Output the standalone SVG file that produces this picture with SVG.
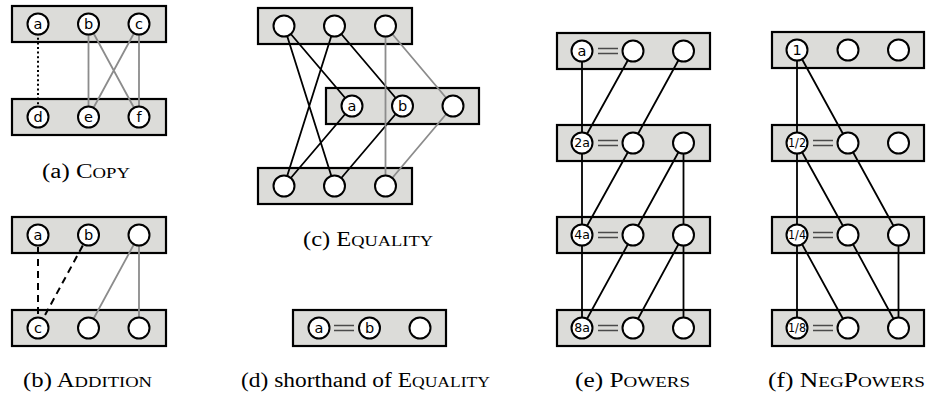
<svg xmlns="http://www.w3.org/2000/svg" width="935" height="395" viewBox="0 0 935 395">
<style>
.box{fill:#dcdcd9;stroke:#000;stroke-width:2.2}
.n{fill:#fff;stroke:#000;stroke-width:2}
.k{stroke:#000;stroke-width:1.8;fill:none}
.g{stroke:#8c8c8c;stroke-width:1.8;fill:none}
.dot{stroke:#000;stroke-width:2;stroke-dasharray:2 2.6;fill:none}
.dash{stroke:#000;stroke-width:2;stroke-dasharray:7 5;fill:none}
.eq{stroke:#4a4a4a;stroke-width:1.5}
.l{font-family:"DejaVu Sans",sans-serif;font-size:14.5px;text-anchor:middle;fill:#000}
.s{font-family:"DejaVu Sans",sans-serif;font-size:12.5px;text-anchor:middle;fill:#000}
.f{font-family:"DejaVu Sans",sans-serif;font-size:11.5px;text-anchor:middle;fill:#000}
.cap{font-family:"Liberation Serif",serif;font-size:20px;fill:#000}
.sc{font-size:15px}
</style>
<rect width="935" height="395" fill="#fff"/>
<!-- rows (boxes) -->
<g id="a-top"><rect class="box" x="12" y="6" width="154" height="36"/></g>
<g id="a-bot"><rect class="box" x="12" y="99" width="154" height="36"/></g>
<g id="b-top"><rect class="box" x="12" y="217" width="154" height="36"/></g>
<g id="b-bot"><rect class="box" x="12" y="310" width="154" height="36"/></g>
<g id="c-top"><rect class="box" x="258" y="8" width="154" height="36"/></g>
<g id="c-mid"><rect class="box" x="326" y="88" width="153" height="36"/></g>
<g id="c-bot"><rect class="box" x="258" y="168" width="154" height="36"/></g>
<g id="d-row"><rect class="box" x="293" y="310" width="153" height="36"/></g>
<g id="e-r1"><rect class="box" x="557" y="33" width="153" height="36"/></g>
<g id="e-r2"><rect class="box" x="557" y="125" width="153" height="36"/></g>
<g id="e-r3"><rect class="box" x="557" y="217" width="153" height="36"/></g>
<g id="e-r4"><rect class="box" x="557" y="310" width="153" height="36"/></g>
<g id="f-r1"><rect class="box" x="772" y="32" width="152" height="36"/></g>
<g id="f-r2"><rect class="box" x="772" y="125" width="152" height="36"/></g>
<g id="f-r3"><rect class="box" x="772" y="217" width="152" height="36"/></g>
<g id="f-r4"><rect class="box" x="772" y="310" width="152" height="36"/></g>
<!-- connectors -->
<g id="connectors">
 <path class="dot" d="M38,24V117"/>
 <path class="g" d="M88.5,24V117M88.5,24L139,117M139,24L88.5,117M139,24V117"/>
 <path class="dash" d="M38,235V328"/>
 <path class="dash" d="M88.5,235L38,328"/>
 <path class="g" d="M139,235L88.5,328M139,235V328"/>
 <path class="k" d="M284,26L352,106M284,26L334.5,186M334.5,26L284,186M334.5,26L402.5,106M352,106L284,186M402.5,106L334.5,186"/>
 <path class="g" d="M385.5,26V186M385.5,26L453,106M453,106L385.5,186"/>
 <path class="eq" d="M334,325.5H354M334,330.5H354"/>
 <path class="k" d="M582,51V328M633,51L582,143M683.5,51L633,143M633,143L582,235M683.5,143L633,235M683.5,143V328M633,235L582,328M683.5,235L633,328"/>
 <path class="eq" d="M598,48.5H618M598,53.5H618M598,140.5H618M598,145.5H618M598,232.5H618M598,237.5H618M598,325.5H618M598,330.5H618"/>
 <path class="k" d="M797,50V328M797,50L848,143M797,143L848,235M848,143L898.5,235M797,235L848,328M848,235L898.5,328M898.5,235V328"/>
 <path class="eq" d="M813,140.5H833M813,145.5H833M813,232.5H833M813,237.5H833M813,325.5H833M813,330.5H833"/>
</g>
<!-- nodes -->
<g id="a-a"><circle class="n" cx="38" cy="24" r="10.5"/><text class="l" x="38" y="28.8">a</text></g>
<g id="a-b"><circle class="n" cx="88.5" cy="24" r="10.5"/><text class="l" x="88.5" y="28.8">b</text></g>
<g id="a-c"><circle class="n" cx="139" cy="24" r="10.5"/><text class="l" x="139" y="28.8">c</text></g>
<g id="a-d"><circle class="n" cx="38" cy="117" r="10.5"/><text class="l" x="38" y="121.8">d</text></g>
<g id="a-e"><circle class="n" cx="88.5" cy="117" r="10.5"/><text class="l" x="88.5" y="121.8">e</text></g>
<g id="a-f"><circle class="n" cx="139" cy="117" r="10.5"/><text class="l" x="139" y="121.8">f</text></g>
<g id="b-a"><circle class="n" cx="38" cy="235" r="10.5"/><text class="l" x="38" y="239.8">a</text></g>
<g id="b-b"><circle class="n" cx="88.5" cy="235" r="10.5"/><text class="l" x="88.5" y="239.8">b</text></g>
<g id="b-t3"><circle class="n" cx="139" cy="235" r="10.5"/></g>
<g id="b-c"><circle class="n" cx="38" cy="328" r="10.5"/><text class="l" x="38" y="332.8">c</text></g>
<g id="b-b2"><circle class="n" cx="88.5" cy="328" r="10.5"/></g>
<g id="b-b3"><circle class="n" cx="139" cy="328" r="10.5"/></g>
<g id="c-t1"><circle class="n" cx="284" cy="26" r="10.5"/></g>
<g id="c-t2"><circle class="n" cx="334.5" cy="26" r="10.5"/></g>
<g id="c-t3"><circle class="n" cx="385.5" cy="26" r="10.5"/></g>
<g id="c-a"><circle class="n" cx="352" cy="106" r="10.5"/><text class="l" x="352" y="110.8">a</text></g>
<g id="c-b"><circle class="n" cx="402.5" cy="106" r="10.5"/><text class="l" x="402.5" y="110.8">b</text></g>
<g id="c-m3"><circle class="n" cx="453" cy="106" r="10.5"/></g>
<g id="c-b1"><circle class="n" cx="284" cy="186" r="10.5"/></g>
<g id="c-b2"><circle class="n" cx="334.5" cy="186" r="10.5"/></g>
<g id="c-b3"><circle class="n" cx="385.5" cy="186" r="10.5"/></g>
<g id="d-a"><circle class="n" cx="319" cy="328" r="10.5"/><text class="l" x="319" y="332.8">a</text></g>
<g id="d-b"><circle class="n" cx="369.5" cy="328" r="10.5"/><text class="l" x="369.5" y="332.8">b</text></g>
<g id="d-3"><circle class="n" cx="420" cy="328" r="10.5"/></g>
<g id="e-a"><circle class="n" cx="582" cy="51" r="10.5"/><text class="l" x="582" y="55.8">a</text></g>
<g id="e-12"><circle class="n" cx="633" cy="51" r="10.5"/></g>
<g id="e-13"><circle class="n" cx="683.5" cy="51" r="10.5"/></g>
<g id="e-2a"><circle class="n" cx="582" cy="143" r="10.5"/><text class="s" x="582" y="147.4">2a</text></g>
<g id="e-22"><circle class="n" cx="633" cy="143" r="10.5"/></g>
<g id="e-23"><circle class="n" cx="683.5" cy="143" r="10.5"/></g>
<g id="e-4a"><circle class="n" cx="582" cy="235" r="10.5"/><text class="s" x="582" y="239.4">4a</text></g>
<g id="e-32"><circle class="n" cx="633" cy="235" r="10.5"/></g>
<g id="e-33"><circle class="n" cx="683.5" cy="235" r="10.5"/></g>
<g id="e-8a"><circle class="n" cx="582" cy="328" r="10.5"/><text class="s" x="582" y="332.4">8a</text></g>
<g id="e-42"><circle class="n" cx="633" cy="328" r="10.5"/></g>
<g id="e-43"><circle class="n" cx="683.5" cy="328" r="10.5"/></g>
<g id="f-1"><circle class="n" cx="797" cy="50" r="10.5"/><text class="l" x="797" y="54.8">1</text></g>
<g id="f-12"><circle class="n" cx="848" cy="50" r="10.5"/></g>
<g id="f-13"><circle class="n" cx="898.5" cy="50" r="10.5"/></g>
<g id="f-half"><circle class="n" cx="797" cy="143" r="10.5"/><text class="f" x="797" y="147.2" textLength="18" lengthAdjust="spacingAndGlyphs">1/2</text></g>
<g id="f-22"><circle class="n" cx="848" cy="143" r="10.5"/></g>
<g id="f-23"><circle class="n" cx="898.5" cy="143" r="10.5"/></g>
<g id="f-quarter"><circle class="n" cx="797" cy="235" r="10.5"/><text class="f" x="797" y="239.2" textLength="18" lengthAdjust="spacingAndGlyphs">1/4</text></g>
<g id="f-32"><circle class="n" cx="848" cy="235" r="10.5"/></g>
<g id="f-33"><circle class="n" cx="898.5" cy="235" r="10.5"/></g>
<g id="f-eighth"><circle class="n" cx="797" cy="328" r="10.5"/><text class="f" x="797" y="332.2" textLength="18" lengthAdjust="spacingAndGlyphs">1/8</text></g>
<g id="f-42"><circle class="n" cx="848" cy="328" r="10.5"/></g>
<g id="f-43"><circle class="n" cx="898.5" cy="328" r="10.5"/></g>
<!-- captions -->
<text class="cap" x="42" y="178" textLength="88" lengthAdjust="spacingAndGlyphs">(a) C<tspan class="sc">OPY</tspan></text>
<text class="cap" x="23" y="387" textLength="129" lengthAdjust="spacingAndGlyphs">(b) A<tspan class="sc">DDITION</tspan></text>
<text class="cap" x="303" y="246" textLength="130" lengthAdjust="spacingAndGlyphs">(c) E<tspan class="sc">QUALITY</tspan></text>
<text class="cap" x="241" y="387" textLength="249" lengthAdjust="spacingAndGlyphs">(d) shorthand of E<tspan class="sc">QUALITY</tspan></text>
<text class="cap" x="575" y="387" textLength="115" lengthAdjust="spacingAndGlyphs">(e) P<tspan class="sc">OWERS</tspan></text>
<text class="cap" x="768" y="387" textLength="157" lengthAdjust="spacingAndGlyphs">(f) N<tspan class="sc">EG</tspan>P<tspan class="sc">OWERS</tspan></text>
</svg>
